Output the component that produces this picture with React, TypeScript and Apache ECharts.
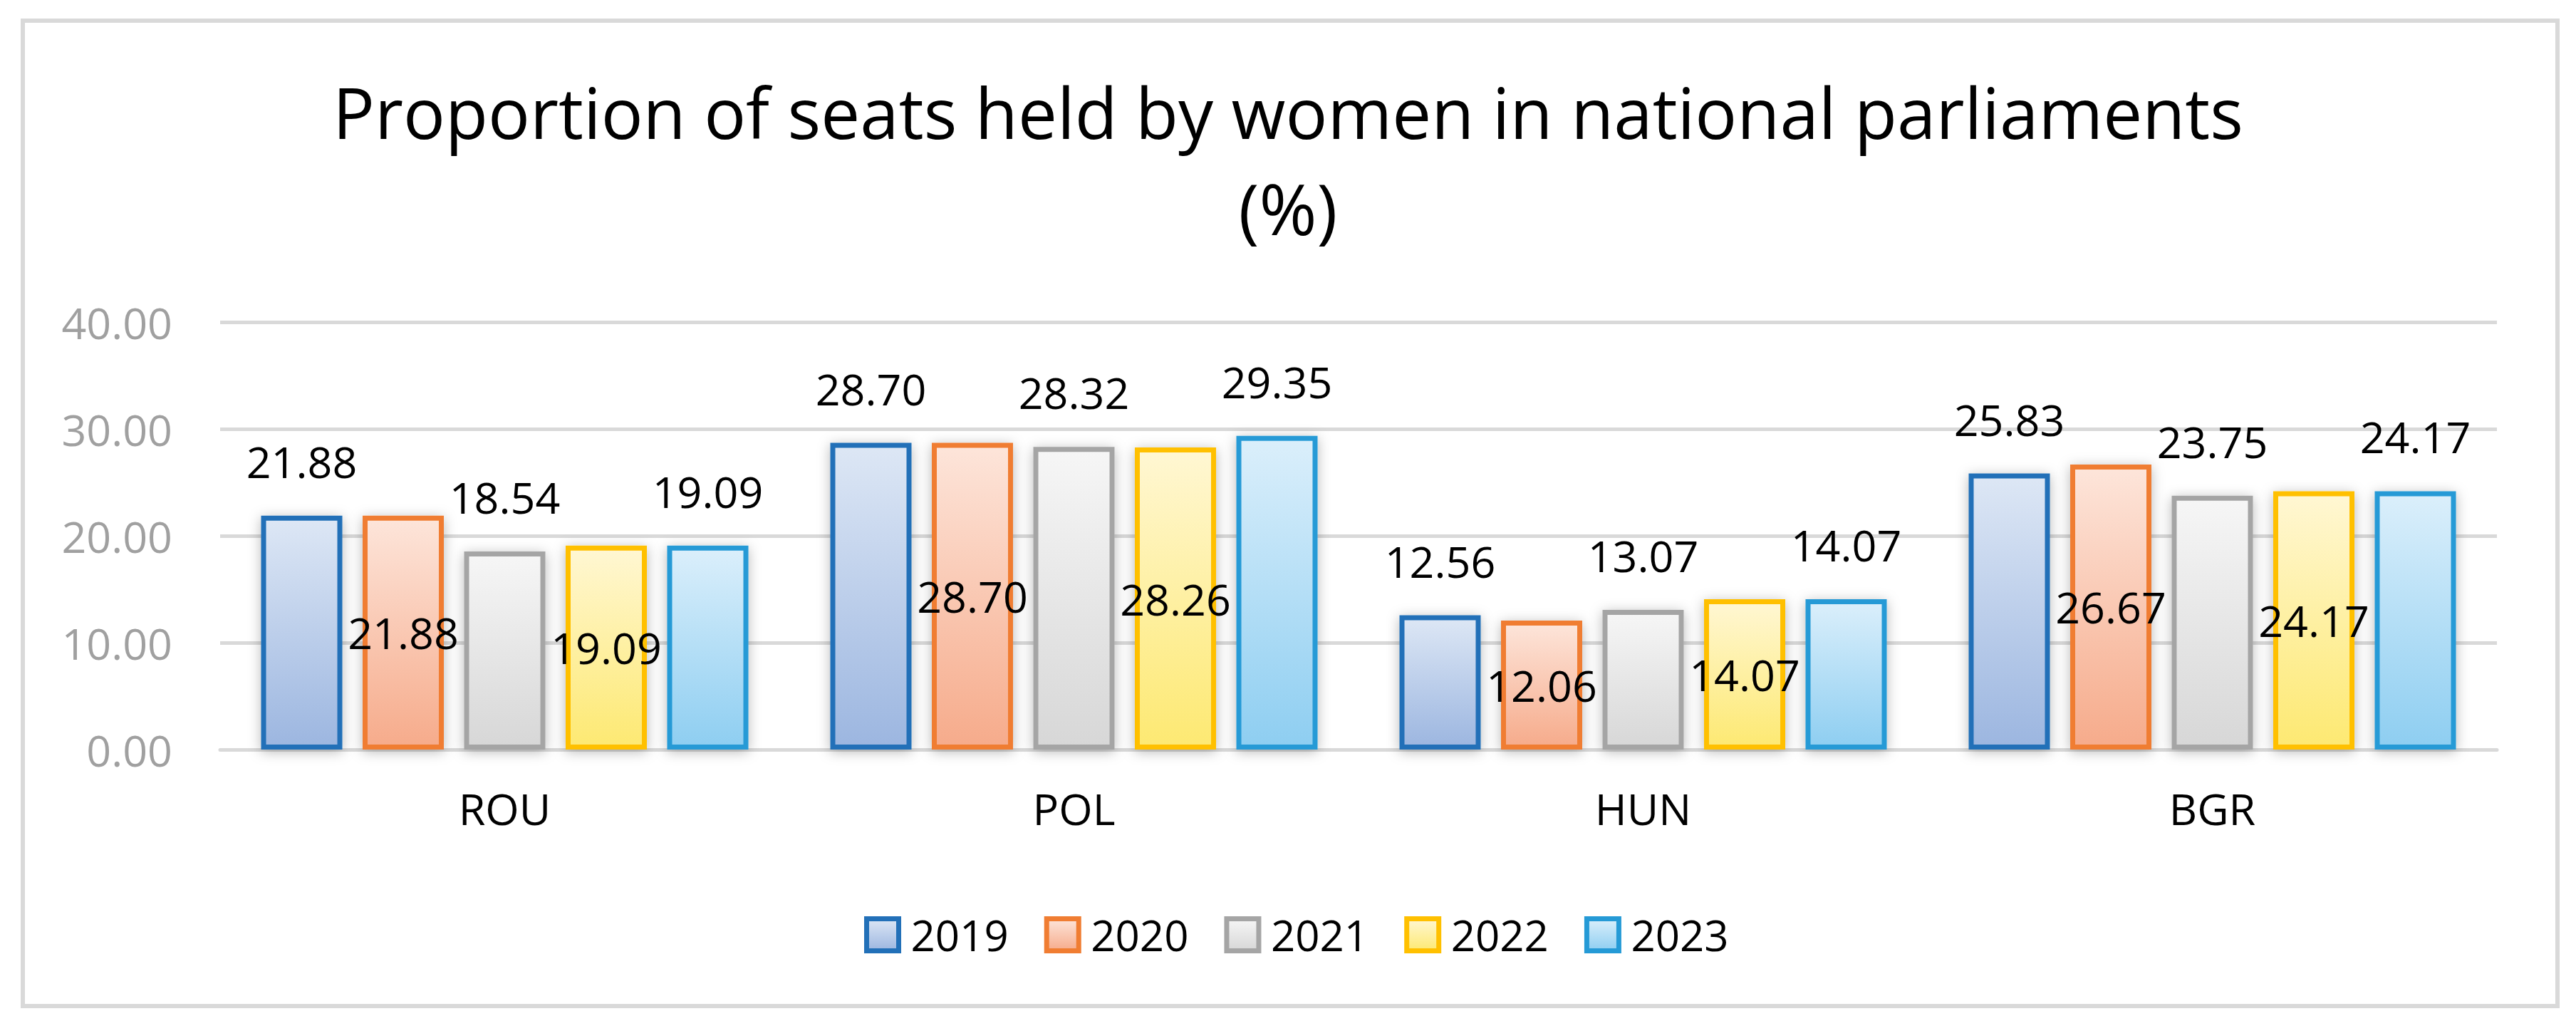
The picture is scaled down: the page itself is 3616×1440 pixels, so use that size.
import React, { useEffect, useRef } from "react";
import * as echarts from "echarts";

const categories = ["ROU", "POL", "HUN", "BGR"];
const years = ["2019", "2020", "2021", "2022", "2023"];
const values2019 = [21.88, 28.7, 12.56, 25.83];
const values2020 = [21.88, 28.7, 12.06, 26.67];
const values2021 = [18.54, 28.32, 13.07, 23.75];
const values2022 = [19.09, 28.26, 14.07, 24.17];
const values2023 = [19.09, 29.35, 14.07, 24.17];
const yTicks = { min: 0, max: 40, interval: 10 };

const seriesValues = [values2019, values2020, values2021, values2022, values2023];
const borderColors = ["#2270b8", "#f07d32", "#a5a5a5", "#ffc000", "#259ad6"];
const gradTop = ["#dde7f5", "#fde5da", "#f6f6f6", "#fff7d3", "#dbeffb"];
const gradBottom = ["#9cb6e0", "#f6ab8b", "#d7d7d7", "#fde972", "#8ecef1"];
const labelInside = [false, true, false, true, false];

const FONT = "'Open Sans', 'Noto Sans', sans-serif";

export default function App() {
  const ref = useRef<HTMLDivElement>(null);
  useEffect(() => {
    document.body.style.margin = "0";
    if (!ref.current) return;
    const chart = echarts.init(ref.current, undefined, { renderer: "svg" });
    const series = years.map((y, i) => ({
      name: y,
      type: "bar",
      data: seriesValues[i],
      barWidth: 114,
      barGap: "25%",
      itemStyle: {
        color: new echarts.graphic.LinearGradient(0, 0, 0, 1, [
          { offset: 0, color: gradTop[i] },
          { offset: 1, color: gradBottom[i] },
        ]),
        borderColor: borderColors[i],
        borderWidth: 7,
        shadowBlur: 18,
        shadowColor: "rgba(0,0,0,0.28)",
        shadowOffsetY: 3,
      },
      label: {
        show: true,
        position: labelInside[i] ? "inside" : "top",
        distance: 46,
        color: "#000",
        fontFamily: FONT,
        fontSize: 61,
        formatter: (p: any) => Number(p.value).toFixed(2),
      },
    }));
    chart.setOption({
      animation: false,
      backgroundColor: "#fff",
      title: {
        text: "Proportion of seats held by women in national parliaments\n(%)",
        left: "center",
        top: 84,
        textStyle: {
          fontFamily: FONT,
          fontSize: 98,
          fontWeight: "normal",
          color: "#000",
          lineHeight: 135,
        },
      },
      legend: {
        data: years,
        left: 1208,
        top: 1277,
        itemWidth: 45,
        itemHeight: 45,
        itemGap: 50,
        icon: "rect",
        itemStyle: { borderWidth: 7, shadowBlur: 0 },
        textStyle: {
          fontFamily: FONT,
          fontSize: 60,
          color: "#000",
          padding: [0, 0, 0, 12],
        },
      },
      grid: { left: 309, right: 111, top: 452, bottom: 388, containLabel: false },
      xAxis: {
        type: "category",
        data: categories,
        axisLine: { show: true, lineStyle: { color: "#d9d9d9", width: 5 } },
        axisTick: { show: false },
        axisLabel: { fontFamily: FONT, fontSize: 61, color: "#000", margin: 52 },
      },
      yAxis: {
        type: "value",
        min: yTicks.min,
        max: yTicks.max,
        interval: yTicks.interval,
        axisLine: { show: false },
        axisTick: { show: false },
        splitLine: { lineStyle: { color: "#d9d9d9", width: 5 } },
        axisLabel: {
          fontFamily: FONT,
          fontSize: 61,
          color: "#a0a0a0",
          margin: 67,
          formatter: (v: number) => v.toFixed(2),
        },
      },
      graphic: [
        {
          type: "rect",
          shape: { x: 32, y: 29, width: 3558, height: 1383 },
          style: { fill: "none", stroke: "#d9d9d9", lineWidth: 6 },
          silent: true,
        },
      ],
      series,
    });
    return () => chart.dispose();
  }, []);
  return <div ref={ref} style={{ width: 3616, height: 1440 }} />;
}
